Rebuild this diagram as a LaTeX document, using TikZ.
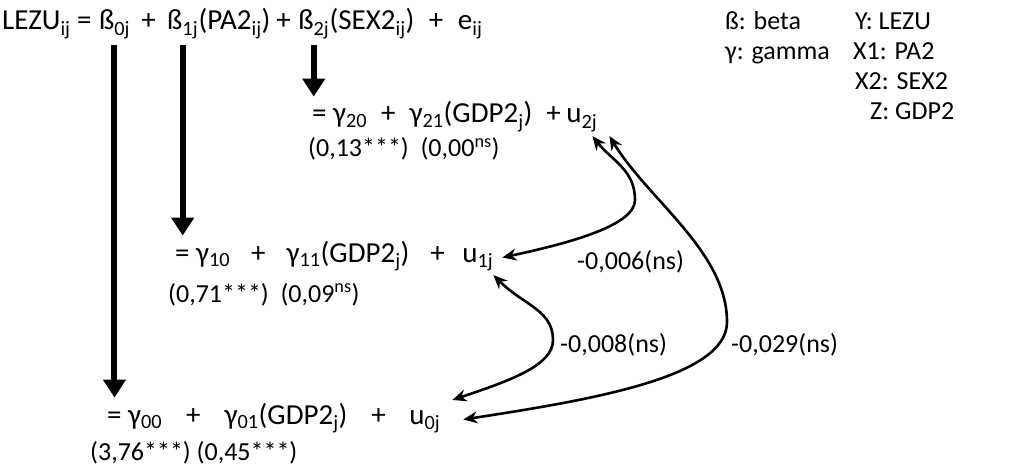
\documentclass[tikz,border=0pt]{standalone}
\usepackage{fontspec}
\setmainfont{Carlito}
\usetikzlibrary{arrows.meta, positioning}
\newcommand{\sbs}[1]{\textsubscript{#1}}
\newcommand{\gap}[1]{\hspace{#1pt}}
\tikzset{
  term/.style={inner sep=0pt, font=\fontsize{26}{30}\selectfont},
  eqn/.style={term, font=\fontsize{29}{30}\selectfont},
  drop/.style={-{Triangle[length=18pt,width=22pt]}, line width=6pt, shorten <=6pt, shorten >=5pt},
  cov/.style={{Stealth[length=14pt,width=12pt]}-{Stealth[length=14pt,width=12pt]}, line width=2.6pt},
}

\begin{document}
\begin{tikzpicture}[x=1pt, y=-1pt, node distance=7pt]
  \useasboundingbox (0,0) rectangle (1009,468);
  % level 1 equation
  \node[eqn, anchor=base west] (lhs) at (2,30) {LEZU\sbs{ij} =};
  \node[eqn, base right=of lhs] (b0) {ß\sbs{0j}};
  \node[eqn, base right=11pt of b0] (p0) {+};
  \node[eqn, base right=11pt of p0] (b1) {ß\sbs{1j}};
  \node[eqn, base right=0pt of b1] (x1) {(PA2\sbs{ij})\hspace{6pt}+};
  \node[eqn, base right=of x1] (b2) {ß\sbs{2j}};
  \node[eqn, base right=0pt of b2] (x2) {(SEX2\sbs{ij})\enspace+\enspace e\sbs{ij}};
  % legend
  \foreach \t/\x/\y [count=\i] in {ß: beta/725/30, γ: gamma/725/60, Y: LEZU/855/30,
      X1: PA2/853/60, X2: SEX2/855/90, Z: GDP2/870/120}
    \node[term, anchor=base west] (leg\i) at (\x,\y) {\t};
  % level 2 equations
  \node[eqn, anchor=base west] (r2) at (312,123) {= γ\sbs{20}\gap{14}+\gap{14}γ\sbs{21}(GDP2\sbs{j})\gap{14}+};
  \node[eqn, base right=5pt of r2] (u2) {u\sbs{2j}};
  \node[term, anchor=base west] (v2) at (308,157) {(0,13***)~~(0,00\textsuperscript{ns})};
  \node[eqn, anchor=base west] (r1) at (175,262) {= γ\sbs{10}\gap{21}+\gap{21}γ\sbs{11}(GDP2\sbs{j})\gap{21}+};
  \node[eqn, base right=17pt of r1] (u1) {u\sbs{1j}};
  \node[term, anchor=base west] (v1) at (168,302) {(0,71***)~~(0,09\textsuperscript{ns})};
  \node[eqn, anchor=base west] (r0) at (107,424) {= γ\sbs{00}\gap{24}+\gap{24}γ\sbs{01}(GDP2\sbs{j})\gap{24}+};
  \node[eqn, base right=23pt of r0] (u0) {u\sbs{0j}};
  \node[term, anchor=base west] (v0) at (90,460) {(3,76***) (0,45***)};
  \draw[drop] (b0.south) -- (b0.south |- r0.north);
  \draw[drop] (b1.south) -- (b1.south |- r1.north);
  \draw[drop] (b2.south) -- (b2.south |- r2.north);
  % covariances
  \coordinate (k6) at (635,200);
  \coordinate (k8) at (553,340);
  \coordinate (k29) at (727,322);
  \draw[cov] ([shift={(-5,4)}]u2.south east) .. controls +(20,25) and +(0,-30) .. (k6)
    .. controls +(0,25) and +(70,-15) .. ([shift={(9,-2)}]u1.east);
  \draw[cov] ([shift={(12,4)}]u2.south east) .. controls +(40,65) and +(0,-70) .. (k29)
    .. controls +(0,55) and +(130,-20) .. ([shift={(23,-2)}]u0.east);
  \draw[cov] ([shift={(0,4)}]u1.south east) .. controls +(30,30) and +(0,-30) .. (k8)
    .. controls +(0,25) and +(60,-20) .. ([shift={(12,-10)}]u0.north east);
  \node[term, anchor=west] (l6) at (577,262) {-0,006(ns)};
  \node[term, anchor=west] (l8) at (560,345) {-0,008(ns)};
  \node[term, anchor=west] (l29) at (731,345) {-0,029(ns)};
\end{tikzpicture}
\end{document}
